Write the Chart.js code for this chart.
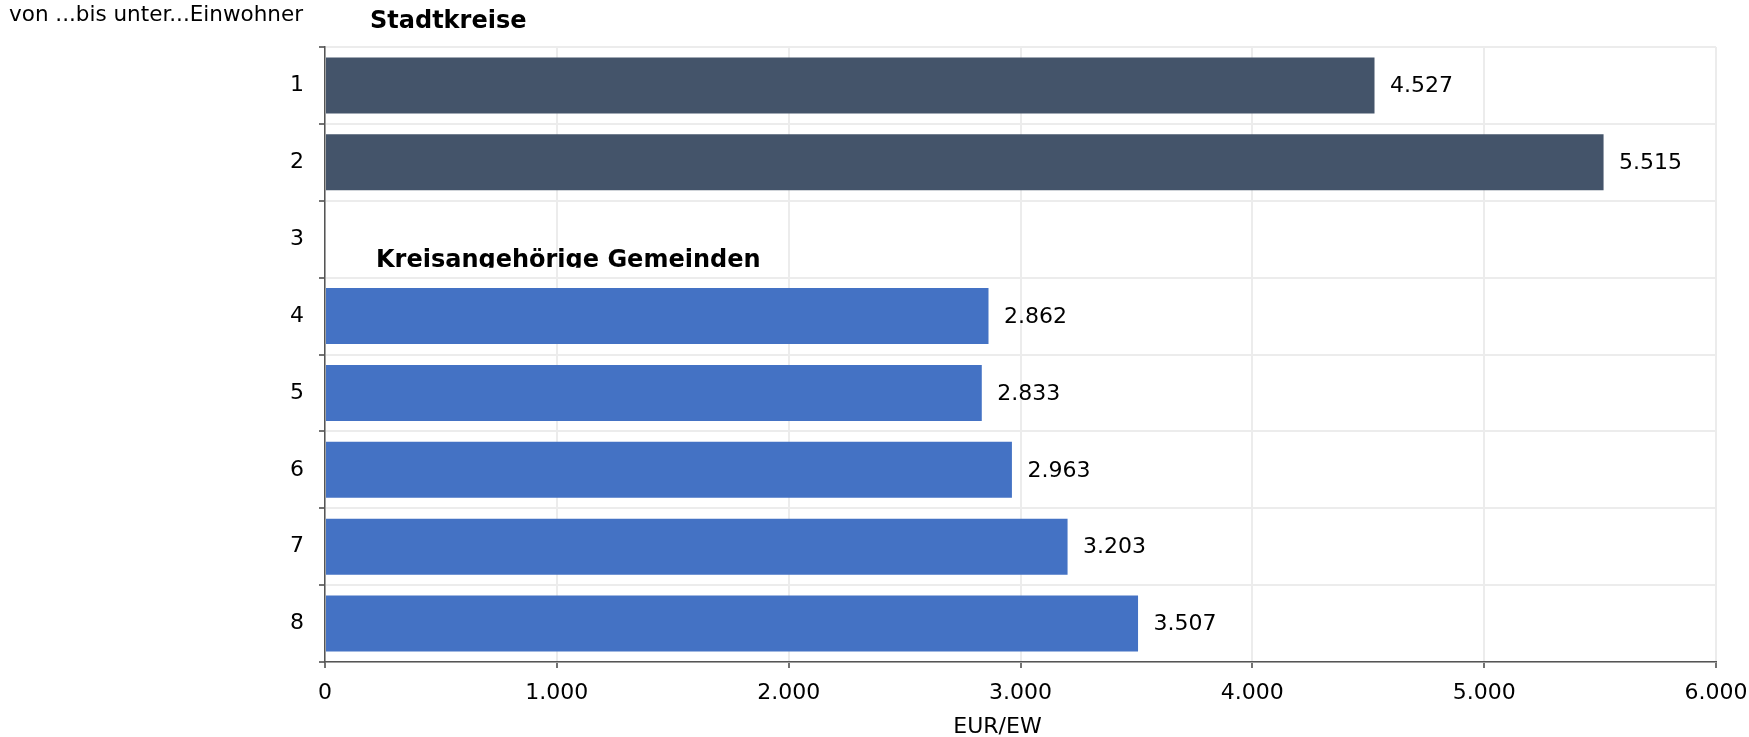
<!DOCTYPE html>
<html>
<head>
<meta charset="utf-8">
<script src="https://cdn.jsdelivr.net/npm/chart.js@4.4.0/dist/chart.umd.min.js"></script>
<style>
  html, body { margin: 0; padding: 0; background: #fff; }
</style>
</head>
<body>
<canvas id="chart" width="1749" height="737"></canvas>
<script>
// data
const categories = ["1", "2", "3", "4", "5", "6", "7", "8"];
const values = [4527, 5515, null, 2862, 2833, 2963, 3203, 3507];
const barColors = ["#44546a", "#44546a", "#44546a", "#4472c4", "#4472c4", "#4472c4", "#4472c4", "#4472c4"];
const xTicks = [0, 1000, 2000, 3000, 4000, 5000, 6000];
const groupTitles = ["Stadtkreise", "Kreisangehörige Gemeinden"];
const yAxisTitle = "von ...bis unter...Einwohner";
const xAxisTitle = "EUR/EW";

const FONT = "'DejaVu Sans', Verdana, sans-serif";

function fmt(n) {
    return String(n).replace(/\B(?=(\d{3})+(?!\d))/g, ".");
}

const labelsPlugin = {
    id: "labelsPlugin",
    afterDatasetsDraw(chart) {
        const ctx = chart.ctx;
        const meta = chart.getDatasetMeta(0);
        ctx.save();
        ctx.font = "22px " + FONT;
        ctx.fillStyle = "#000";
        ctx.textAlign = "left";
        ctx.textBaseline = "middle";
        meta.data.forEach((bar, i) => {
            if (values[i] == null) return;
            ctx.fillText(fmt(values[i]), bar.x + 15.5, bar.y + 1);
        });
        ctx.restore();
    },
    afterDraw(chart) {
        const ctx = chart.ctx;
        const area = chart.chartArea;
        const y = chart.scales.y;
        ctx.save();
        ctx.fillStyle = "#000";

        // axis titles
        ctx.font = "21.5px " + FONT;
        ctx.textAlign = "left";
        ctx.textBaseline = "alphabetic";
        ctx.fillText(yAxisTitle, 9, 21);
        ctx.font = "22px " + FONT;
        ctx.textAlign = "center";
        ctx.fillText(xAxisTitle, (area.left + area.right) / 2 - 23, 733);

        // group titles
        ctx.font = "bold 24px " + FONT;
        ctx.textAlign = "left";
        ctx.fillText(groupTitles[0], area.left + 45, 28);

        // second title is cut off at the bottom, like in the original
        const boundary = (y.getPixelForValue(2) + y.getPixelForValue(3)) / 2;
        ctx.beginPath();
        ctx.rect(area.left, boundary - 60, area.right - area.left, 50);
        ctx.clip();
        ctx.fillText(groupTitles[1], area.left + 51, boundary - 11);
        ctx.restore();
    }
};

new Chart(document.getElementById("chart"), {
    type: "bar",
    data: {
        labels: categories,
        datasets: [{
            data: values,
            backgroundColor: barColors,
            borderWidth: 0,
            barPercentage: 0.73,
            categoryPercentage: 1
        }]
    },
    options: {
        indexAxis: "y",
        responsive: false,
        animation: false,
        layout: { padding: { top: 47, right: 33, left: 0, bottom: 0 } },
        plugins: {
            legend: { display: false },
            tooltip: { enabled: false }
        },
        scales: {
            x: {
                min: 0,
                max: 6000,
                afterBuildTicks: scale => { scale.ticks = xTicks.map(v => ({ value: v })); },
                afterFit: scale => {
                    scale.height = 75;
                    scale.paddingLeft = 0;
                    scale.paddingRight = 0;
                },
                grid: {
                    color: "#ececec",
                    lineWidth: 2,
                    tickColor: "#444",
                    tickWidth: 1.5,
                    tickLength: 6
                },
                border: { color: "#555", width: 1.5 },
                ticks: {
                    padding: 12,
                    color: "#000",
                    font: { family: FONT, size: 22 },
                    maxRotation: 0,
                    callback: v => fmt(v)
                }
            },
            y: {
                afterFit: scale => { scale.width = 325; },
                grid: {
                    offset: true,
                    color: "#ececec",
                    lineWidth: 2,
                    tickColor: "#444",
                    tickWidth: 1.5,
                    tickLength: 6
                },
                border: { color: "#555", width: 1.5 },
                ticks: {
                    padding: 15,
                    color: "#000",
                    font: { family: FONT, size: 22 }
                }
            }
        }
    },
    plugins: [labelsPlugin]
});
</script>
</body>
</html>
